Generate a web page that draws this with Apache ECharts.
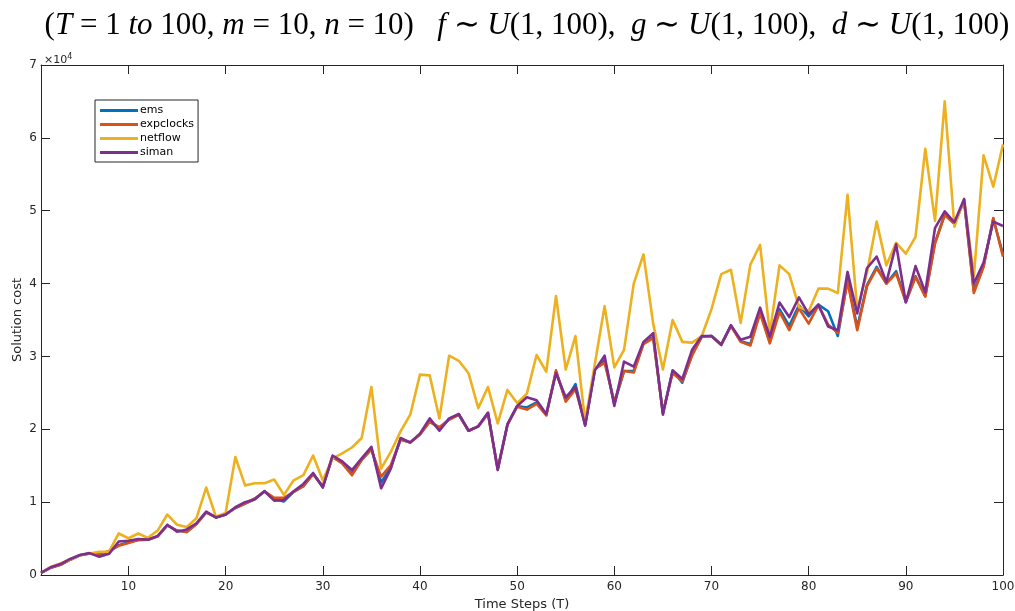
<!DOCTYPE html>
<html>
<head>
<meta charset="utf-8">
<script src="https://cdn.jsdelivr.net/npm/echarts@6/dist/echarts.min.js"></script>
<style>
  html, body { margin: 0; padding: 0; background: #fff; }
  #chart { width: 1015px; height: 611px; }
</style>
</head>
<body>
<div id="chart"></div>
<script>
// Time steps T = 1 .. 100
const timeSteps = Array.from({ length: 100 }, (_, i) => i + 1);

// Solution cost per method, in thousands
const emsCost = [
  0.3, 1.0, 1.4, 2.1, 2.7, 2.95, 2.7, 3.2, 4.1, 4.5,
  4.8, 4.85, 5.3, 6.8, 6.1, 5.9, 7.0, 8.6, 7.9, 8.3,
  9.2, 9.8, 10.4, 11.5, 10.4, 10.1, 11.4, 12.2, 13.9, 12.1,
  16.2, 15.4, 13.9, 15.8, 17.3, 12.7, 14.8, 18.6, 18.2, 19.3,
  21.1, 20.1, 21.4, 22.0, 19.8, 20.4, 22.2, 14.5, 20.6, 23.2,
  23.0, 23.7, 22.0, 27.9, 24.0, 26.2, 20.6, 28.2, 29.5, 23.5,
  28.0, 28.0, 31.8, 32.7, 22.2, 28.0, 26.4, 30.3, 32.7, 32.8,
  31.6, 34.2, 32.1, 31.7, 36.2, 32.0, 36.5, 34.2, 37.0, 35.5,
  37.1, 36.2, 32.8, 40.5, 34.0, 39.8, 42.3, 40.0, 41.7, 37.5,
  41.0, 38.3, 45.6, 49.5, 48.2, 51.4, 39.0, 42.4, 48.9, 44.0
];
const expclocksCost = [
  0.3, 1.0, 1.4, 2.1, 2.7, 2.95, 2.9, 3.3, 4.0, 4.4,
  4.8, 4.85, 5.3, 6.8, 6.1, 5.9, 7.0, 8.6, 7.9, 8.3,
  9.2, 9.8, 10.5, 11.5, 10.6, 10.6, 11.4, 12.2, 13.8, 12.2,
  16.2, 15.3, 13.7, 15.8, 17.2, 13.5, 15.1, 18.6, 18.2, 19.3,
  21.0, 20.3, 21.3, 22.0, 19.8, 20.4, 22.1, 14.6, 20.6, 23.1,
  22.7, 23.5, 21.9, 28.1, 23.8, 25.5, 20.8, 28.3, 29.1, 23.8,
  28.0, 27.8, 31.7, 32.5, 22.3, 27.7, 26.6, 30.1, 32.7, 32.8,
  31.6, 34.2, 32.0, 31.5, 35.9, 31.8, 36.1, 33.6, 36.6, 34.5,
  37.0, 34.4, 33.2, 40.3, 33.6, 39.6, 42.1, 40.0, 41.4, 37.5,
  40.9, 38.2, 45.5, 49.4, 48.2, 51.4, 38.7, 42.3, 49.0, 43.7
];
const netflowCost = [
  0.3, 1.1, 1.6, 2.15, 2.7, 2.95, 3.2, 3.2, 5.7, 5.05,
  5.7, 5.1, 6.1, 8.3, 6.9, 6.6, 7.8, 12.0, 8.0, 8.5,
  16.2, 12.3, 12.6, 12.6, 13.1, 11.0, 13.0, 13.7, 16.4, 13.0,
  16.0, 16.7, 17.5, 18.8, 25.8, 14.6, 16.9, 19.7, 22.0, 27.5,
  27.4, 21.5, 30.1, 29.4, 27.7, 22.9, 25.8, 20.8, 25.4, 23.6,
  24.9, 30.2, 27.9, 38.3, 28.2, 32.8, 21.0, 29.0, 36.9, 28.5,
  30.9, 40.0, 44.0, 34.5, 28.2, 35.0, 32.0, 31.9, 32.8, 36.5,
  41.3, 41.9, 34.6, 42.6, 45.3, 33.2, 42.5, 41.3, 36.8, 36.2,
  39.3, 39.3, 38.7, 52.2, 36.4, 41.5, 48.5, 42.5, 45.6, 44.1,
  46.4, 58.5, 48.6, 65.0, 47.8, 51.6, 41.0, 57.6, 53.3, 59.1
];
const simanCost = [
  0.3, 1.05, 1.5, 2.2, 2.75, 3.0, 2.5, 2.9, 4.6, 4.7,
  4.95, 4.85, 5.35, 6.9, 5.95, 6.25, 7.1, 8.7, 7.9, 8.3,
  9.3, 10.0, 10.4, 11.5, 10.2, 10.3, 11.5, 12.5, 14.0, 12.0,
  16.4, 15.6, 14.4, 16.0, 17.6, 11.9, 14.6, 18.8, 18.2, 19.4,
  21.5, 19.8, 21.5, 22.1, 19.8, 20.4, 22.3, 14.4, 20.7, 23.2,
  24.4, 24.0, 22.1, 27.7, 24.4, 25.8, 20.5, 28.1, 30.1, 23.2,
  29.3, 28.6, 32.0, 33.2, 22.0, 28.1, 26.9, 30.9, 32.8, 32.8,
  31.6, 34.3, 32.3, 32.7, 36.7, 32.7, 37.4, 35.4, 38.1, 35.8,
  37.1, 34.1, 33.6, 41.6, 35.9, 42.1, 43.7, 40.2, 45.4, 37.4,
  42.4, 38.8, 47.6, 49.9, 48.4, 51.6, 40.0, 42.9, 48.5, 47.9
];

const methodNames = ['ems', 'expclocks', 'netflow', 'siman'];
const methodColors = ['#0072BD', '#D95319', '#EDB120', '#7E2F8E'];
const methodCosts = [emsCost, expclocksCost, netflowCost, simanCost];

const xTickValues = [10, 20, 30, 40, 50, 60, 70, 80, 90, 100];
const yTickStep = 10000;
const yMax = 70000;

const axisInk = '#262626';
const tickFont = 'DejaVu Sans';

const chart = echarts.init(document.getElementById('chart'));

function frameXAxis(position, showLabels) {
  return {
    type: 'value',
    position: position,
    min: 1,
    max: 100,
    splitLine: { show: false },
    axisLine: { show: true, onZero: false, lineStyle: { color: axisInk, width: 1 } },
    axisTick: { show: true, inside: true, length: 9, customValues: xTickValues,
                lineStyle: { color: axisInk, width: 1 } },
    axisLabel: { show: showLabels, customValues: xTickValues, color: axisInk,
                 fontFamily: tickFont, fontSize: 12, margin: 6 }
  };
}

function frameYAxis(position, showLabels) {
  return {
    type: 'value',
    position: position,
    min: 0,
    max: yMax,
    interval: yTickStep,
    splitLine: { show: false },
    axisLine: { show: true, onZero: false, lineStyle: { color: axisInk, width: 1 } },
    axisTick: { show: true, inside: true, length: 9, lineStyle: { color: axisInk, width: 1 } },
    axisLabel: { show: showLabels, color: axisInk, fontFamily: tickFont, fontSize: 12, margin: 4,
                 formatter: v => String(v / yTickStep) }
  };
}

const xBottom = frameXAxis('bottom', true);
xBottom.name = 'Time Steps (T)';
xBottom.nameLocation = 'middle';
xBottom.nameGap = 22;
xBottom.nameTextStyle = { color: axisInk, fontFamily: tickFont, fontSize: 13 };

const yLeft = frameYAxis('left', true);
yLeft.name = 'Solution cost';
yLeft.nameLocation = 'middle';
yLeft.nameGap = 17;
yLeft.nameMoveOverlap = false;
yLeft.nameTextStyle = { color: axisInk, fontFamily: tickFont, fontSize: 13 };

const serif = 'Liberation Serif';
const titleRich = {
  p: { fontFamily: serif, fontSize: 31, fontWeight: 'normal', color: '#000' },
  i: { fontFamily: serif, fontSize: 31, fontWeight: 'normal', fontStyle: 'italic', color: '#000' }
};

chart.setOption({
  animation: false,
  backgroundColor: '#fff',
  title: [
    {
      text: '{p|(}{i|T}{p| = 1 }{i|to}{p| 100, }{i|m}{p| = 10, }{i|n}{p| = 10)   }' +
            '{i|f}{p| ∼ }{i|U}{p|(1, 100),  }{i|g}{p| ∼ }{i|U}{p|(1, 100),  }' +
            '{i|d}{p| ∼ }{i|U}{p|(1, 100)}',
      left: 522,
      textAlign: 'center',
      top: 5,
      textStyle: { fontWeight: 'normal', rich: titleRich }
    },
    {
      text: '×10{s|4}',
      left: 39,
      top: 48,
      textStyle: {
        fontFamily: tickFont, fontSize: 11, fontWeight: 'normal', color: axisInk,
        rich: { s: { fontFamily: tickFont, fontSize: 8, color: axisInk, verticalAlign: 'top', padding: [0, 0, 7, 0] } }
      }
    }
  ],
  grid: { left: 41, right: 12, top: 65, bottom: 36, outerBoundsMode: 'none', containLabel: false },
  legend: {
    orient: 'vertical',
    left: 95,
    top: 100,
    padding: [4, 4, 3, 5],
    itemGap: 1,
    itemWidth: 38,
    itemHeight: 3,
    icon: 'rect',
    borderColor: '#262626',
    borderWidth: 1,
    backgroundColor: '#fff',
    textStyle: { fontFamily: tickFont, fontSize: 11, color: '#000', padding: [0, 0, 0, -3], lineHeight: 13 },
    data: methodNames
  },
  xAxis: [xBottom, frameXAxis('top', false)],
  yAxis: [yLeft, frameYAxis('right', false)],
  series: methodNames.map((name, k) => ({
    name: name,
    type: 'line',
    xAxisIndex: 0,
    yAxisIndex: 0,
    symbol: 'none',
    color: methodColors[k],
    lineStyle: { width: 2.6, color: methodColors[k], join: 'round' },
    data: timeSteps.map((t, i) => [t, methodCosts[k][i] * 1000]),
    z: 2 + k
  }))
});
</script>
</body>
</html>
